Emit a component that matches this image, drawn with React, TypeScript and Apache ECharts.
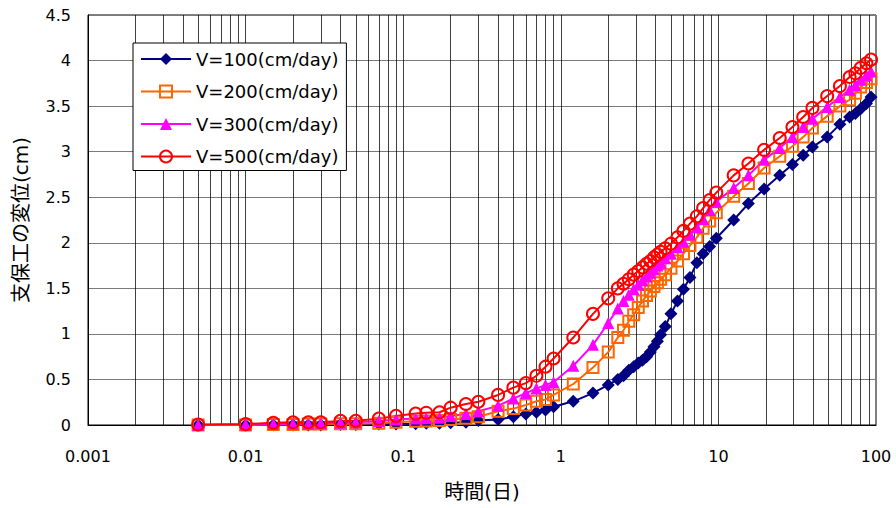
import { useEffect, useRef } from 'react';
import * as echarts from 'echarts';

// Elapsed time (days) shared by every case
const times = [
  0.005, 0.01, 0.015, 0.02, 0.025, 0.03, 0.04, 0.05, 0.07, 0.09,
  0.12, 0.14, 0.17, 0.2, 0.25, 0.3, 0.4, 0.5, 0.6, 0.7,
  0.8, 0.9, 1.2, 1.6, 2.0, 2.3, 2.5, 2.7, 2.9, 3.1,
  3.3, 3.5, 3.7, 3.9, 4.1, 4.3, 4.6, 5.0, 5.5, 6.0,
  6.6, 7.3, 8.0, 8.8, 9.7, 12.5, 15.5, 19.5, 24.5, 29.5,
  34.5, 39.5, 49, 59, 68, 74, 80, 87, 93,
];

// Support displacement (cm) for each advance rate
const v100 = [
  0, 0, 0, 0, 0, 0, 0.005, 0.005, 0.01, 0.01,
  0.015, 0.02, 0.02, 0.025, 0.03, 0.05, 0.06, 0.09, 0.12, 0.14,
  0.165, 0.2, 0.26, 0.35, 0.44, 0.5, 0.54, 0.6, 0.64, 0.68,
  0.71, 0.75, 0.8, 0.86, 0.92, 0.99, 1.08, 1.22, 1.36, 1.49,
  1.62, 1.78, 1.88, 1.96, 2.05, 2.25, 2.43, 2.59, 2.74, 2.86,
  2.96, 3.05, 3.16, 3.3, 3.38, 3.42, 3.47, 3.53, 3.6,
];
const v200 = [
  0, 0, 0.005, 0.005, 0.01, 0.01, 0.015, 0.015, 0.02, 0.03,
  0.04, 0.045, 0.05, 0.06, 0.075, 0.09, 0.15, 0.18, 0.22, 0.26,
  0.28, 0.33, 0.45, 0.63, 0.8, 0.96, 1.04, 1.14, 1.21, 1.29,
  1.36, 1.42, 1.47, 1.52, 1.56, 1.6, 1.65, 1.72, 1.8, 1.88,
  1.97, 2.06, 2.16, 2.24, 2.33, 2.51, 2.65, 2.82, 2.95, 3.06,
  3.16, 3.26, 3.39, 3.5, 3.57, 3.64, 3.71, 3.76, 3.8,
];
const v300 = [
  0, 0.005, 0.01, 0.015, 0.015, 0.02, 0.025, 0.03, 0.045, 0.06,
  0.07, 0.075, 0.08, 0.1, 0.12, 0.15, 0.21, 0.29, 0.35, 0.4,
  0.44, 0.47, 0.65, 0.88, 1.12, 1.28, 1.36, 1.43, 1.49, 1.54,
  1.59, 1.63, 1.67, 1.71, 1.75, 1.78, 1.83, 1.88, 1.95, 2.01,
  2.09, 2.17, 2.26, 2.36, 2.45, 2.6, 2.74, 2.91, 3.04, 3.16,
  3.27, 3.36, 3.49, 3.6, 3.68, 3.73, 3.79, 3.84, 3.88,
];
const v500 = [
  0.005, 0.01, 0.025, 0.03, 0.03, 0.03, 0.045, 0.047, 0.07, 0.1,
  0.125, 0.135, 0.14, 0.19, 0.23, 0.255, 0.33, 0.41, 0.46, 0.54,
  0.64, 0.73, 0.96, 1.22, 1.39, 1.5, 1.55, 1.6, 1.65, 1.69,
  1.73, 1.77, 1.8, 1.84, 1.87, 1.9, 1.94, 1.99, 2.06, 2.13,
  2.21, 2.29, 2.38, 2.47, 2.55, 2.74, 2.87, 3.02, 3.15, 3.27,
  3.38, 3.48, 3.61, 3.72, 3.82, 3.86, 3.92, 3.97, 4.01,
];

const seriesNames = ['V=100(cm/day)', 'V=200(cm/day)', 'V=300(cm/day)', 'V=500(cm/day)'];

// Vertical log grid positions (2..9 within each decade plus the decades)
const gridTimes = [
  0.002, 0.003, 0.004, 0.005, 0.006, 0.007, 0.008, 0.009, 0.01,
  0.02, 0.03, 0.04, 0.05, 0.06, 0.07, 0.08, 0.09, 0.1,
  0.2, 0.3, 0.4, 0.5, 0.6, 0.7, 0.8, 0.9, 1,
  2, 3, 4, 5, 6, 7, 8, 9, 10,
  20, 30, 40, 50, 60, 70, 80, 90,
];

const latin = 'DejaVu Sans';
const titleFont = '"DejaVu Sans", "Noto Sans CJK JP"';

const pairs = (ys: number[]) => times.map((t, i) => [t, ys[i]]);

export default function App() {
  const ref = useRef<HTMLDivElement>(null);

  useEffect(() => {
    if (!ref.current) return;
    const chart = echarts.init(ref.current, undefined, { renderer: 'svg' });

    const base = {
      type: 'line' as const,
      showSymbol: true,
      clip: false,
      z: 3,
    };

    chart.setOption({
      animation: false,
      backgroundColor: '#ffffff',
      grid: {
        left: 88,
        right: 20,
        top: 15,
        bottom: 83,
        show: true,
        borderColor: '#000',
        borderWidth: 1,
        backgroundColor: 'transparent',
      },
      legend: {
        data: seriesNames,
        orient: 'vertical',
        left: 133,
        top: 43,
        backgroundColor: '#fff',
        borderColor: '#000',
        borderWidth: 1,
        padding: [7, 8, 5, 7],
        itemWidth: 50,
        itemHeight: 15,
        itemGap: 14.5,
        textStyle: { fontFamily: latin, fontSize: 18, color: '#000', lineHeight: 18 },
      },
      xAxis: {
        type: 'log',
        logBase: 10,
        min: 0.001,
        max: 100,
        name: '時間(日)',
        nameLocation: 'middle',
        nameGap: 57,
        nameTextStyle: { fontFamily: titleFont, fontSize: 20, color: '#000' },
        axisLine: { show: true, lineStyle: { color: '#000', width: 1 } },
        axisTick: { show: false },
        splitLine: { show: false },
        axisLabel: {
          margin: 23,
          fontFamily: latin,
          fontSize: 16,
          color: '#000',
          formatter: (v: number) => String(+v.toPrecision(3)),
        },
      },
      yAxis: {
        type: 'value',
        min: 0,
        max: 4.5,
        interval: 0.5,
        name: '支保工の変位(cm)',
        nameLocation: 'middle',
        nameRotate: 90,
        nameGap: 57,
        nameTextStyle: { fontFamily: titleFont, fontSize: 20, color: '#000' },
        axisLine: { show: true, lineStyle: { color: '#000', width: 1 } },
        axisTick: { show: false },
        splitLine: { show: true, lineStyle: { color: '#7a7a7a', width: 1 } },
        axisLabel: { margin: 17, fontFamily: latin, fontSize: 16, color: '#000' },
      },
      series: [
        {
          type: 'lines',
          coordinateSystem: 'cartesian2d',
          silent: true,
          z: 1,
          lineStyle: { color: '#000', width: 1, opacity: 0.75, type: 'solid' },
          data: gridTimes.map((t) => ({ coords: [[t, 0], [t, 4.5]] })),
        },
        {
          ...base,
          name: seriesNames[0],
          data: pairs(v100),
          symbol: 'diamond',
          symbolSize: 13,
          lineStyle: { color: '#000080', width: 2 },
          itemStyle: { color: '#000080' },
        },
        {
          ...base,
          name: seriesNames[1],
          data: pairs(v200),
          symbol: 'rect',
          symbolSize: 11,
          lineStyle: { color: '#ff6600', width: 2 },
          itemStyle: { color: 'rgba(255,255,255,0)', borderColor: '#ff6600', borderWidth: 2 },
        },
        {
          ...base,
          name: seriesNames[2],
          data: pairs(v300),
          symbol: 'triangle',
          symbolSize: 12,
          lineStyle: { color: '#ff00ff', width: 2 },
          itemStyle: { color: '#ff00ff' },
        },
        {
          ...base,
          name: seriesNames[3],
          data: pairs(v500),
          symbol: 'circle',
          symbolSize: 12,
          lineStyle: { color: '#ff0000', width: 2 },
          itemStyle: { color: 'rgba(255,255,255,0)', borderColor: '#ff0000', borderWidth: 2 },
        },
      ],
    });

    return () => chart.dispose();
  }, []);

  return (
    <div
      ref={ref}
      style={{ position: 'fixed', left: 0, top: 0, width: 896, height: 508, background: '#fff' }}
    />
  );
}
